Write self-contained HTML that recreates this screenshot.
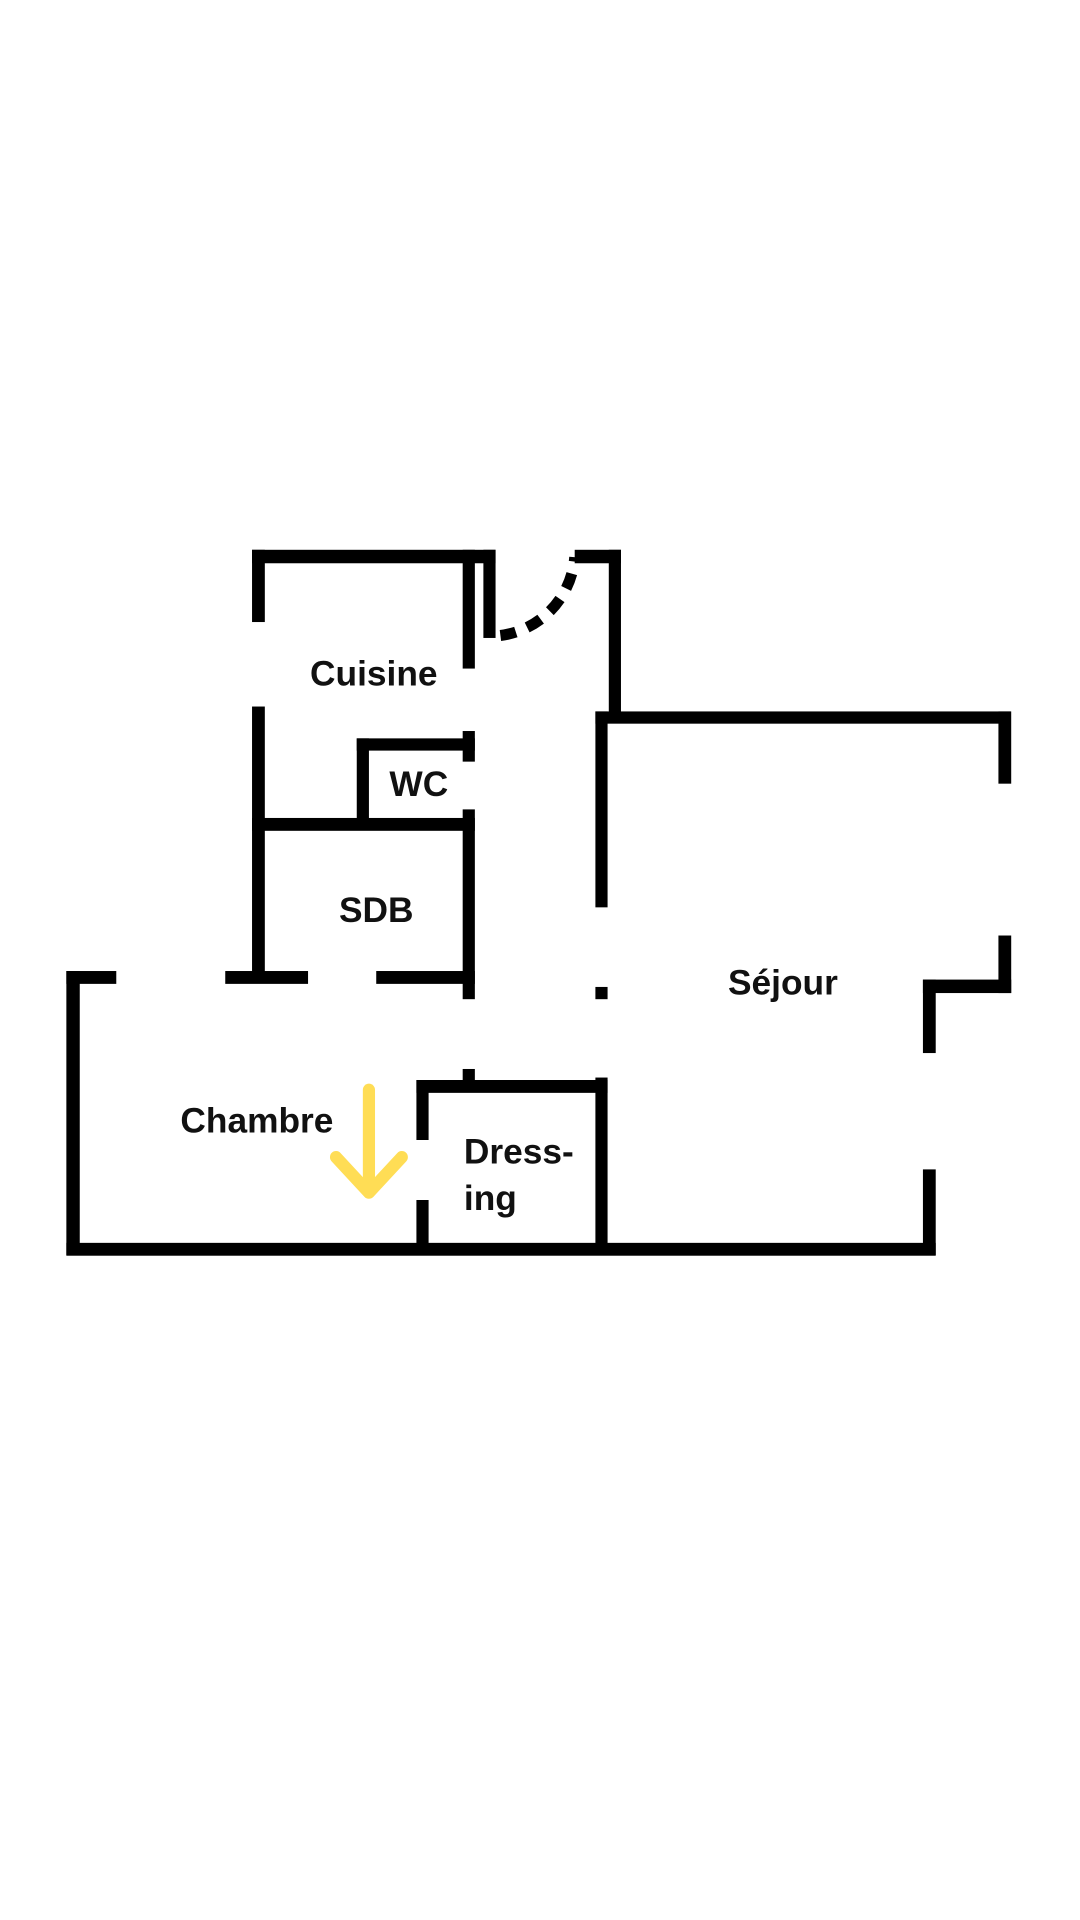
<!DOCTYPE html>
<html><head><meta charset="utf-8"><style>
html,body{margin:0;padding:0;background:#fff;width:1080px;height:1920px;overflow:hidden}
svg{display:block}
text{font-family:"Liberation Sans",sans-serif;font-weight:bold;font-size:29px;fill:#111}
</style></head><body>
<svg width="1080" height="1920" viewBox="0 0 887 1568" preserveAspectRatio="none" xmlns="http://www.w3.org/2000/svg">
<g fill="#000">
<!-- Cuisine top -->
<rect x="207" y="449" width="200" height="11"/>
<rect x="207" y="449" width="10.5" height="59"/>
<rect x="207" y="577" width="10.5" height="221"/>
<rect x="380" y="449" width="10" height="97"/>
<rect x="397" y="449" width="10" height="72"/>
<!-- entrance right -->
<rect x="472" y="449" width="38" height="11"/>
<rect x="500" y="449" width="10" height="141"/>
<!-- Sejour -->
<rect x="489" y="581" width="341" height="10"/>
<rect x="820" y="581" width="10.5" height="59"/>
<rect x="489" y="581" width="10" height="160"/>
<rect x="489" y="806" width="10" height="10"/>
<rect x="820" y="764" width="10.5" height="47"/>
<rect x="758" y="800" width="72.5" height="11"/>
<rect x="758" y="800" width="10.5" height="60"/>
<rect x="758" y="955" width="10.5" height="70"/>
<!-- WC -->
<rect x="293" y="603" width="97" height="10"/>
<rect x="293" y="603" width="10" height="66"/>
<rect x="380" y="597" width="10" height="25"/>
<!-- SDB -->
<rect x="207" y="668" width="183" height="10.5"/>
<rect x="380" y="661" width="10" height="155"/>
<rect x="185" y="793" width="68" height="10.5"/>
<rect x="309" y="793" width="81" height="10.5"/>
<!-- Chambre -->
<rect x="54.5" y="793" width="11" height="232"/>
<rect x="54.5" y="793" width="41" height="10.5"/>
<rect x="54.5" y="1015" width="714" height="10.5"/>
<!-- Dressing -->
<rect x="342" y="882" width="157" height="10.5"/>
<rect x="489" y="880" width="10" height="145"/>
<rect x="342" y="882" width="10" height="49"/>
<rect x="342" y="980" width="10" height="45"/>
<rect x="380" y="873" width="10" height="10"/>
</g>
<path d="M411 519 A70 70 0 0 0 472 455" fill="none" stroke="#000" stroke-width="9" stroke-dasharray="13 10"/>
<g stroke="#FFDD55" stroke-width="10" stroke-linecap="round" stroke-linejoin="round" fill="none">
<line x1="303" y1="890" x2="303" y2="972"/>
<polyline points="276,945 303,974 330,945"/>
</g>
<text x="307" y="560" text-anchor="middle">Cuisine</text>
<text x="344" y="650" text-anchor="middle">WC</text>
<text x="309" y="753" text-anchor="middle">SDB</text>
<text x="211" y="925" text-anchor="middle">Chambre</text>
<text x="381" y="950">Dress-</text>
<text x="381" y="988">ing</text>
<text x="643" y="812" text-anchor="middle">Séjour</text>
</svg>
</body></html>
